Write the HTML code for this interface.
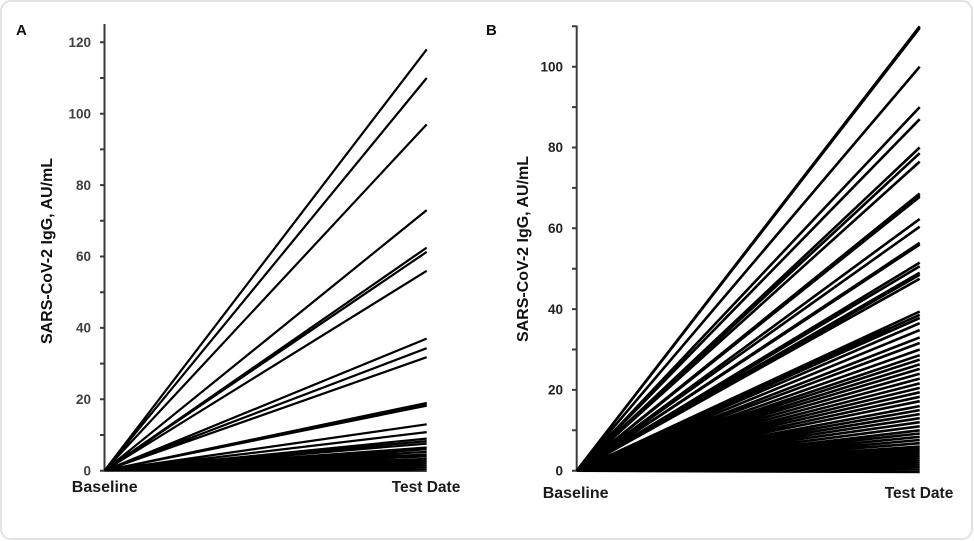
<!DOCTYPE html>
<html>
<head>
<meta charset="utf-8">
<style>
html,body{margin:0;padding:0;background:#fff;}
svg{display:block;}
text{font-family:"Liberation Sans",Arial,sans-serif;font-weight:bold;}
</style>
</head>
<body>
<svg width="974" height="541" viewBox="0 0 974 541" xmlns="http://www.w3.org/2000/svg">
<rect x="1" y="1" width="971" height="538" rx="10" ry="10" fill="#fff" stroke="#e2e2e2" stroke-width="2"/>

<text x="16" y="35" font-size="15" fill="#111">A</text>
<text transform="translate(52,251) rotate(-90)" text-anchor="middle" font-size="16" fill="#111">SARS-CoV-2 IgG, AU/mL</text>
<g stroke="#3a3a3a" stroke-width="2" fill="none">
<line x1="104.5" y1="24" x2="104.5" y2="471.5"/>
<path d="M100 470.7H104.5M100 435H104.5M100 399.3H104.5M100 363.6H104.5M100 327.9H104.5M100 292.2H104.5M100 256.5H104.5M100 220.8H104.5M100 185.1H104.5M100 149.4H104.5M100 113.7H104.5M100 78H104.5M100 42.3H104.5"/>
</g>
<g font-size="13.5" fill="#404040" text-anchor="end">
<text x="91" y="475.4">0</text>
<text x="91" y="404">20</text>
<text x="91" y="332.6">40</text>
<text x="91" y="261.2">60</text>
<text x="91" y="189.8">80</text>
<text x="91" y="118.4">100</text>
<text x="91" y="47">120</text>
</g>
<g transform="translate(104.5,470.7)">
<path stroke="#000" stroke-width="2.2" fill="none" d="M0 0L322.2-421.3M0 0L322.2-392.7M0 0L322.2-346.3M0 0L322.2-260.6M0 0L322.2-223.1M0 0L322.2-218.8M0 0L322.2-199.9M0 0L322.2-132.1M0 0L322.2-122.5M0 0L322.2-113.5M0 0L322.2-67.8M0 0L322.2-66.4M0 0L322.2-65M0 0L322.2-46.4M0 0L322.2-38.6M0 0L322.2-32.1M0 0L322.2-29.6M0 0L322.2-27.1M0 0L322.2-23.2M0 0L322.2-21.4M0 0L322.2-18.9M0 0L322.2-16.4M0 0L322.2-14.3M0 0L322.2-11.8M0 0L322.2-9.6M0 0L322.2-7.5M0 0L322.2-5.4M0 0L322.2-3.6M0 0L322.2-1.8M0 0L322.2 0"/>
</g>
<text x="104.7" y="492" font-size="16" fill="#1a1a1a" text-anchor="middle">Baseline</text>
<text x="426" y="492" font-size="15.5" fill="#1a1a1a" text-anchor="middle">Test Date</text>

<text x="486" y="35" font-size="15" fill="#111">B</text>
<text transform="translate(528,249) rotate(-90)" text-anchor="middle" font-size="16" fill="#111">SARS-CoV-2 IgG, AU/mL</text>
<g stroke="#3a3a3a" stroke-width="2" fill="none">
<line x1="576.7" y1="25.5" x2="576.7" y2="471.5"/>
<path d="M572 470.7H576.7M572 430.3H576.7M572 389.9H576.7M572 349.5H576.7M572 309.1H576.7M572 268.7H576.7M572 228.3H576.7M572 187.9H576.7M572 147.5H576.7M572 107.1H576.7M572 66.7H576.7M572 26.3H576.7"/>
</g>
<g font-size="13.5" fill="#222" text-anchor="end">
<text x="563" y="475.4">0</text>
<text x="563" y="394.6">20</text>
<text x="563" y="313.8">40</text>
<text x="563" y="233">60</text>
<text x="563" y="152.2">80</text>
<text x="563" y="71.4">100</text>
</g>
<g transform="translate(576.7,470.7)">
<path stroke="#000" stroke-width="2.6" fill="none" d="M0 0L343-444.4M0 0L343-442.8M0 0L343-404M0 0L343-363.6M0 0L343-351.5M0 0L343-323.2M0 0L343-317.5M0 0L343-309.1M0 0L343-277.2M0 0L343-275.5M0 0L343-273.9M0 0L343-251.7M0 0L343-244M0 0L343-227.9M0 0L343-226.2M0 0L343-208.1M0 0L343-204.4M0 0L343-198M0 0L343-195.9M0 0L343-191.9M0 0L343-159.2M0 0L343-155.9M0 0L343-152.7M0 0L343-147.5M0 0L343-140.6M0 0L343-133.3M0 0L343-127.7M0 0L343-121.2M0 0L343-115.5M0 0L343-111.1M0 0L343-106.3M0 0L343-101.8M0 0L343-97M0 0L343-92.1M0 0L343-87.3M0 0L343-82.8M0 0L343-78.4M0 0L343-73.9M0 0L343-69.5M0 0L343-64.6M0 0L343-60.6M0 0L343-56.6M0 0L343-52.5M0 0L343-48.5M0 0L343-44.4M0 0L343-40.4M0 0L343-37.2M0 0L343-33.9M0 0L343-30.7M0 0L343-27.5M0 0L343-24.2M0 0L343-22.2M0 0L343-20.2M0 0L343-18.2M0 0L343-16.2M0 0L343-14.1M0 0L343-12.1M0 0L343-10.1M0 0L343-8.1M0 0L343-6.1M0 0L343-4M0 0L343-2M0 0L343 0M0 0L343 1.3"/>
</g>
<text x="575.6" y="498" font-size="16" fill="#1a1a1a" text-anchor="middle">Baseline</text>
<text x="919" y="498" font-size="15.5" fill="#1a1a1a" text-anchor="middle">Test Date</text>
</svg>
</body>
</html>
